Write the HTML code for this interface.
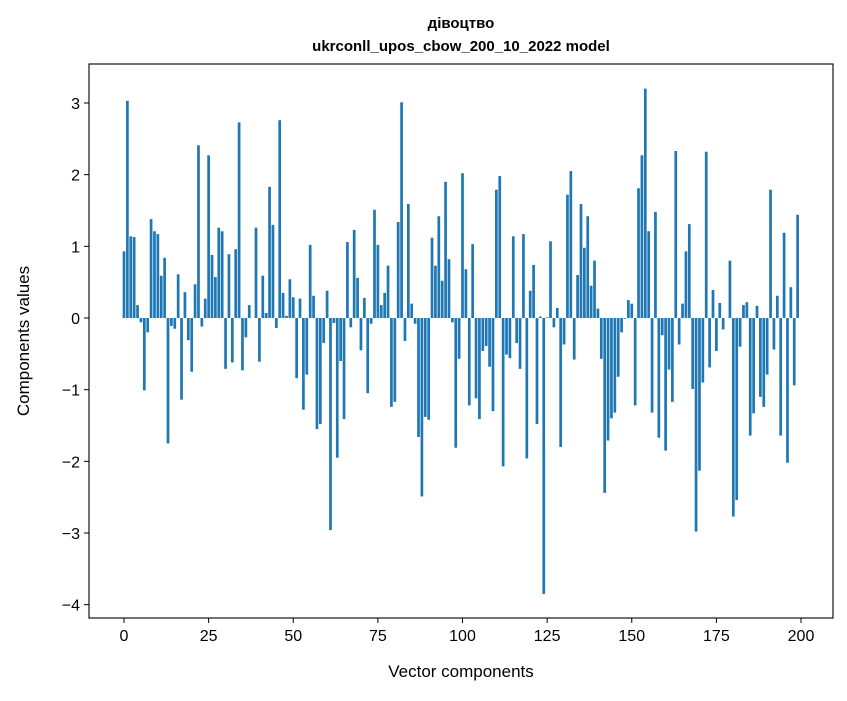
<!DOCTYPE html>
<html><head><meta charset="utf-8"><style>
body{margin:0;background:#fff;}
svg text{font-family:"Liberation Sans",sans-serif;fill:#000;}
</style></head><body>
<svg id="chart" width="847" height="696" xmlns="http://www.w3.org/2000/svg">
<rect width="847" height="696" fill="#fff"/>
<text x="461" y="28" font-size="15" font-weight="bold" text-anchor="middle">дівоцтво</text>
<text x="461" y="51" font-size="15" font-weight="bold" text-anchor="middle">ukrconll_upos_cbow_200_10_2022 model</text>
<g id="bars"></g>
<g id="axes"></g>
<text x="461" y="677" font-size="17" text-anchor="middle">Vector components</text>
<text transform="translate(29,341) rotate(-90)" font-size="17" text-anchor="middle">Components values</text>
</svg>
<script>
const values = [0.93,3.03,1.14,1.13,0.18,-0.06,-1.01,-0.2,1.38,1.21,1.17,0.59,0.84,-1.75,-0.11,-0.15,0.61,-1.14,0.36,-0.31,-0.75,0.47,2.41,-0.12,0.27,2.27,0.88,0.57,1.26,1.21,-0.71,0.89,-0.62,0.96,2.73,-0.73,-0.27,0.18,0.0,1.26,-0.61,0.59,0.07,1.83,1.3,-0.14,2.76,0.35,0.03,0.54,0.29,-0.84,0.27,-1.28,-0.79,1.02,0.31,-1.55,-1.48,-0.35,0.38,-2.96,-0.07,-1.95,-0.6,-1.41,1.06,-0.13,1.23,0.56,-0.45,0.28,-1.05,-0.08,1.51,1.02,0.18,0.35,0.73,-1.24,-1.17,1.34,3.01,-0.32,1.59,0.2,-0.08,-1.66,-2.49,-1.38,-1.42,1.12,0.73,1.42,0.52,1.9,0.82,-0.06,-1.81,-0.57,2.02,0.68,-1.22,1.03,-1.12,-1.41,-0.46,-0.39,-0.68,-1.3,1.79,1.98,-2.07,-0.51,-0.56,1.14,-0.35,-0.71,1.17,-1.96,0.38,0.74,-1.48,0.02,-3.85,0.01,1.07,-0.13,0.14,-1.8,-0.37,1.72,2.05,-0.58,0.6,1.59,0.98,1.42,0.45,0.8,0.13,-0.57,-2.44,-1.71,-1.4,-1.32,-0.82,-0.2,-0.01,0.25,0.2,-1.22,1.81,2.27,3.2,1.21,-1.32,1.48,-1.67,-0.24,-1.85,-0.72,-1.17,2.33,-0.37,0.2,0.93,1.31,-0.99,-2.98,-2.13,-0.9,2.32,-0.69,0.39,-0.46,0.21,-0.16,0.0,0.8,-2.77,-2.54,-0.4,0.18,0.22,-1.64,-1.33,0.17,-1.1,-1.24,-0.79,1.79,-0.44,0.31,-1.64,1.19,-2.02,0.43,-0.94,1.44];
const xTicks = [0,25,50,75,100,125,150,175,200];
const yTicks = [-4,-3,-2,-1,0,1,2,3];
const NS="http://www.w3.org/2000/svg";
const L=89,R=833,T=64,B=618;
const xMin=-10.34,xMax=209.45,yMin=-4.186,yMax=3.544;
const xs=v=>L+(v-xMin)/(xMax-xMin)*(R-L);
const ys=v=>B-(v-yMin)/(yMax-yMin)*(B-T);
const bars=document.getElementById('bars');
values.forEach((v,i)=>{
  const r=document.createElementNS(NS,'rect');
  const x0=xs(i-0.4),x1=xs(i+0.4);
  r.setAttribute('x',x0);r.setAttribute('width',x1-x0);
  r.setAttribute('y',Math.min(ys(v),ys(0)));
  r.setAttribute('height',Math.abs(ys(v)-ys(0)));
  r.setAttribute('fill','#1f77b4');
  
  
  bars.appendChild(r);
});
const ax=document.getElementById('axes');
const fr=document.createElementNS(NS,'rect');
fr.setAttribute('x',L);fr.setAttribute('y',T);fr.setAttribute('width',R-L);fr.setAttribute('height',B-T);
fr.setAttribute('fill','none');fr.setAttribute('stroke','#000');fr.setAttribute('stroke-width','1.1');


ax.appendChild(fr);
xTicks.forEach(t=>{
  const x=xs(t);
  const l=document.createElementNS(NS,'line');
  l.setAttribute('x1',x);l.setAttribute('x2',x);l.setAttribute('y1',B);l.setAttribute('y2',B+5);l.setAttribute('stroke','#000');
  
  
  ax.appendChild(l);
  const tx=document.createElementNS(NS,'text');
  tx.setAttribute('x',x);tx.setAttribute('y',B+23);tx.setAttribute('font-size','16');tx.setAttribute('text-anchor','middle');
  tx.textContent=t;
  
  
  ax.appendChild(tx);
});
yTicks.forEach(t=>{
  const y=ys(t);
  const l=document.createElementNS(NS,'line');
  l.setAttribute('x1',L-5);l.setAttribute('x2',L);l.setAttribute('y1',y);l.setAttribute('y2',y);l.setAttribute('stroke','#000');
  
  
  ax.appendChild(l);
  const tx=document.createElementNS(NS,'text');
  tx.setAttribute('x',L-9);tx.setAttribute('y',y+6);tx.setAttribute('font-size','16');tx.setAttribute('text-anchor','end');
  tx.textContent=t<0?'\u2212'+Math.abs(t):t;
  
  
  ax.appendChild(tx);
});
</script>
</body></html>
